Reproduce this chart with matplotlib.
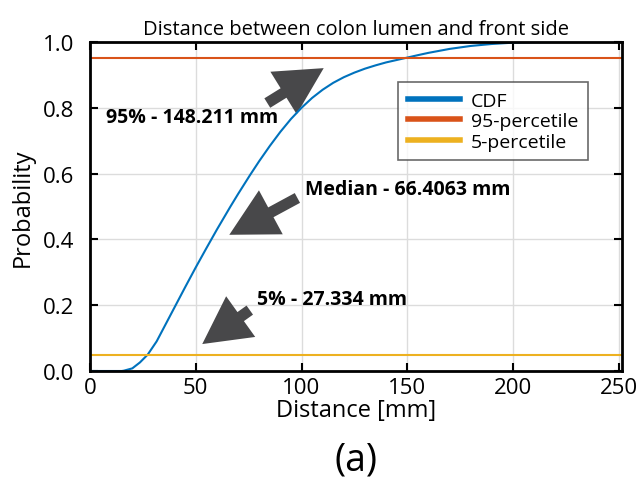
import matplotlib
matplotlib.use("Agg")
import matplotlib.pyplot as plt
from matplotlib.patches import FancyArrowPatch

plt.rcParams['font.family'] = ['Open Sans', 'DejaVu Sans']

# CDF values
dist = [0, 15, 16, 20, 23.6, 27.3, 31.5, 36, 40.5, 45, 50, 55, 60, 66.4, 70, 75.6, 80, 85,
        90, 95, 100, 105, 110, 115, 120, 125, 130, 135, 140, 148.2, 155, 160, 170, 180, 190,
        200, 210, 220, 230]
prob = [0, 0, 0.001, 0.008, 0.026, 0.05, 0.09, 0.145, 0.2, 0.255, 0.315, 0.373, 0.43, 0.5,
        0.538, 0.595, 0.638, 0.684, 0.727, 0.766, 0.8, 0.83, 0.855, 0.876, 0.893, 0.907,
        0.919, 0.929, 0.938, 0.95, 0.96, 0.967, 0.979, 0.988, 0.994, 0.998, 0.9995, 1.0, 1.0]
p95 = 0.95
p5 = 0.05
xticks = [0, 50, 100, 150, 200, 250]
yticks = [0.0, 0.2, 0.4, 0.6, 0.8, 1.0]

fig = plt.figure(figsize=(6.41, 4.85), dpi=100)
ax = fig.add_axes([90/641, 1-372/485, (622-90)/641, (372-43)/485])

ax.plot(dist, prob, color='#0072BD', lw=1.5, label='CDF')
ax.axhline(p95, color='#D95319', lw=1.5, label='95-percetile')
ax.axhline(p5, color='#EDB120', lw=1.5, label='5-percetile')

ax.set_xlim(0, 251.5)
ax.set_ylim(0, 1)
ax.set_xticks(xticks)
ax.set_yticks(yticks)
ax.set_yticklabels([f'{v:.1f}' for v in yticks])
ax.grid(True, color='#dcdcdc', lw=1)
ax.set_axisbelow(True)
ax.tick_params(direction='in', top=True, right=True, length=6, width=1.5, labelsize=16)
ax.tick_params(axis='y', pad=11)
ax.tick_params(axis='x', pad=4)
for s in ax.spines.values():
    s.set_linewidth(2)
ax.set_xlabel('Distance [mm]', fontsize=17, labelpad=0)
ax.set_ylabel('Probability', fontsize=17, labelpad=6)
ax.set_title('Distance between colon lumen and front side', fontsize=14.5, pad=6)

leg = ax.legend(loc='upper right', bbox_to_anchor=(0.936, 0.878), borderaxespad=0,
                fontsize=14, frameon=True, fancybox=False, edgecolor='#444444',
                handlelength=2.7, borderpad=0.5, labelspacing=0.12, handletextpad=0.55)
leg.get_frame().set_linewidth(1.2)
for h in leg.legend_handles:
    h.set_linewidth(4)

arrow_kw = dict(arrowstyle='simple,head_length=1.7,head_width=1.8,tail_width=0.4',
                color='#48484a', mutation_scale=20, lw=0)
for (tx, ty), (hx, hy) in [((82.7, 0.81), (111.6, 0.925)),
                           ((99.2, 0.53), (64.7, 0.41)),
                           ((76.6, 0.19), (52, 0.077))]:
    ax.add_patch(FancyArrowPatch((tx, ty), (hx, hy), **arrow_kw))

ax.text(7.5, 0.772, '95% - 148.211 mm', fontsize=14, fontweight='bold', va='center')
ax.text(101.6, 0.553, 'Median - 66.4063 mm', fontsize=14, fontweight='bold', va='center')
ax.text(78.9, 0.219, '5% - 27.334 mm', fontsize=14, fontweight='bold', va='center')

fig.text(356/641, 1-461/485, '(a)', fontsize=27, ha='center', va='center')

fig.savefig('out.png', dpi=100)
